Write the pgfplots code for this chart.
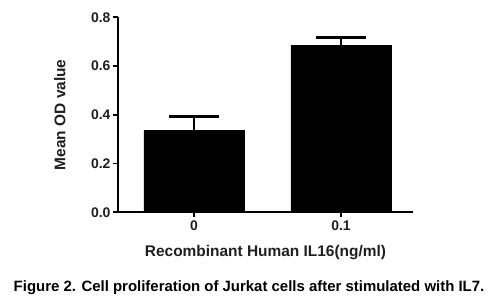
\documentclass[border=0pt]{standalone}
\usepackage{pgfplots}
\pgfplotsset{compat=1.18}
\usepackage{fontspec}
\setmainfont{Liberation Sans}
\begin{document}
\begin{tikzpicture}
\useasboundingbox (0,0) rectangle (496bp,300bp);
\begin{axis}[
  at={(118bp,87.7bp)}, anchor=south west,
  scale only axis, width=295bp, height=195bp,
  xmin=-0.517, xmax=1.49, ymin=0, ymax=0.8,
  axis x line*=bottom, axis y line*=left,
  axis line style={line width=1.8bp, -},
  ytick={0,0.2,0.4,0.6,0.8},
  xtick={0,1}, xticklabels={0,0.1},
  yticklabel style={xshift=1bp, /pgf/number format/.cd, fixed, fixed zerofill, precision=1},
  /pgf/number format/assume math mode=true,
  tick style={line width=1.8bp, black},
  major tick length=5bp, tick align=outside,
  ticklabel style={font=\fontsize{14}{16}\selectfont\bfseries, text=black!88},
  label style={font=\fontsize{15.5}{18}\selectfont\bfseries, text=black!88},
  xlabel={Recombinant Human IL16(ng/ml)},
  ylabel={Mean OD value},
  xlabel style={at={(axis description cs:0.5,-0.2256)}, anchor=base},
  ylabel style={at={(axis description cs:-0.197,0.5)}, anchor=center},
  ybar, bar width=100bp,
]
\addplot[fill=black, draw=black,
  error bars/.cd, y dir=plus, y explicit,
  error bar style={line width=2.6bp, black},
  error mark options={rotate=90, mark size=25bp, line width=2.6bp, black}]
  coordinates {(0,0.335) +- (0,0.057) (1,0.685) +- (0,0.032)};
\end{axis}
\node[anchor=base, font=\fontsize{15}{18}\selectfont\bfseries] at (249bp,9bp)
  {Figure 2. Cell proliferation of Jurkat cells after stimulated with IL7.};
\end{tikzpicture}
\end{document}
